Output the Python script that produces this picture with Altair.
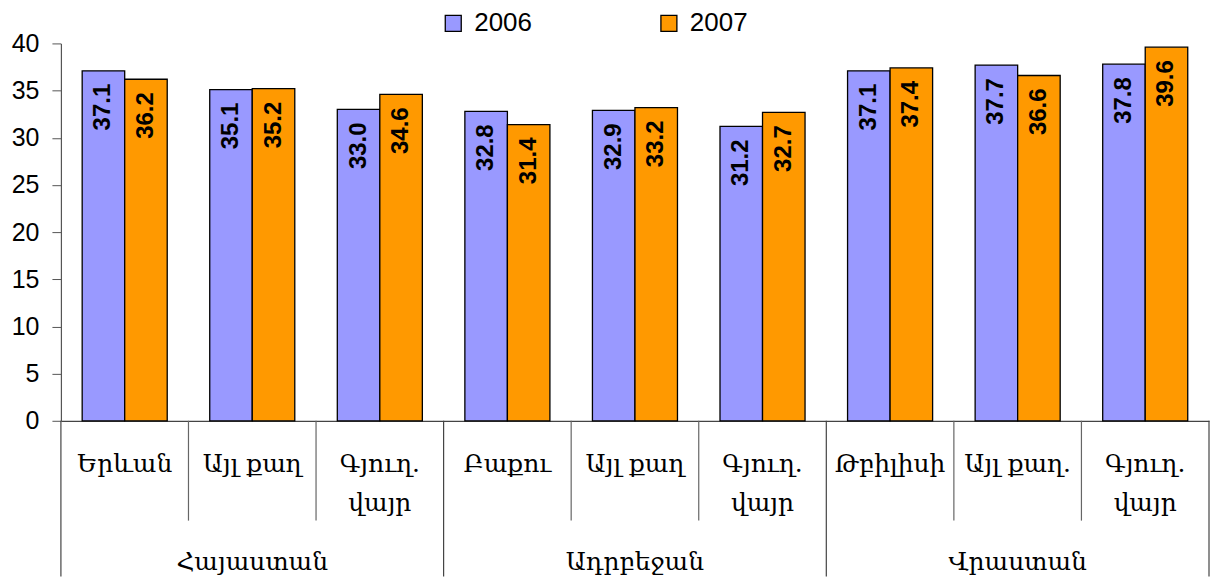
import altair as alt
import pandas as pd

ids = ["c0", "c1", "c2", "c3", "c4", "c5", "c6", "c7", "c8"]
cat_labels = ["Երևան", "Այլ քաղ", "Գյուղ.\nվայր", "Բաքու", "Այլ քաղ", "Գյուղ.\nվայր",
              "Թբիլիսի", "Այլ քաղ.", "Գյուղ.\nվայր"]
group_ids = ["c1", "c4", "c7"]
group_labels = ["Հայաստան", "Ադրբեջան", "Վրաստան"]
years = ["2006", "2007"]
v2006 = [37.1, 35.1, 33.0, 32.8, 32.9, 31.2, 37.1, 37.7, 37.8]
v2007 = [36.2, 35.2, 34.6, 31.4, 33.2, 32.7, 37.4, 36.6, 39.6]
short_sep_ids = ["c1", "c2", "c4", "c5", "c7", "c8"]
long_sep_ids = ["c0", "c3", "c6"]

rows = []
for i, cid in enumerate(ids):
    rows.append({"id": cid, "year": "2006", "value": v2006[i]})
    rows.append({"id": cid, "year": "2007", "value": v2007[i]})
bars_df = pd.DataFrame(rows)
cats_df = pd.DataFrame({"id": ids, "label": cat_labels})
groups_df = pd.DataFrame({"id": group_ids, "label": group_labels})
short_df = pd.DataFrame({"id": short_sep_ids})
long_df = pd.DataFrame({"id": long_sep_ids})
end_df = pd.DataFrame({"id": [ids[-1]]})

PLOT_H = 378
LABEL_FONT = "DejaVu Serif"

x_enc = alt.X("id:N", title=None,
              scale=alt.Scale(paddingInner=0, paddingOuter=0),
              axis=alt.Axis(labels=False, ticks=False, domainColor="#444", domainWidth=1.2))
xoff = alt.XOffset("year:N", scale=alt.Scale(paddingOuter=0.5, paddingInner=0))
y_enc = alt.Y("value:Q", title=None,
              scale=alt.Scale(domain=[0, 40], nice=False),
              axis=alt.Axis(values=list(range(0, 45, 5)), grid=False, tickSize=9,
                            labelFontSize=25, labelPadding=13, labelColor="black",
                            labelFont="Liberation Sans", domainColor="#555",
                            tickColor="#555", domainWidth=1.2))

bars = alt.Chart(bars_df).mark_bar(stroke="black", strokeWidth=1.3).encode(
    x=x_enc,
    xOffset=xoff,
    y=y_enc,
    color=alt.Color("year:N", title=None,
                    scale=alt.Scale(domain=years, range=["#9999FF", "#FF9900"]),
                    legend=alt.Legend(orient="none", legendX=380, legendY=-33,
                                      direction="horizontal", symbolType="square",
                                      symbolSize=256, symbolStrokeColor="black",
                                      symbolStrokeWidth=1.3, labelFontSize=26,
                                      labelFont="Liberation Sans", labelColor="black",
                                      columnPadding=124, labelOffset=8)),
)

texts = alt.Chart(bars_df).mark_text(angle=270, align="right", baseline="middle", dx=-13,
                                     fontSize=24, fontWeight="bold",
                                     font="Liberation Sans", color="black").encode(
    x="id:N",
    xOffset=xoff,
    y="value:Q",
    text=alt.Text("value:Q", format=".1f"),
)

short_sep = alt.Chart(short_df).mark_rule(color="#666", strokeWidth=1.2).encode(
    x=alt.X("id:N", bandPosition=0),
    y=alt.value(PLOT_H),
    y2=alt.value(PLOT_H + 100),
)
long_sep = alt.Chart(long_df).mark_rule(color="#444", strokeWidth=1.2).encode(
    x=alt.X("id:N", bandPosition=0),
    y=alt.value(PLOT_H),
    y2=alt.value(PLOT_H + 156),
)
end_sep = alt.Chart(end_df).mark_rule(color="#444", strokeWidth=1.2).encode(
    x=alt.X("id:N", bandPosition=1),
    y=alt.value(PLOT_H),
    y2=alt.value(PLOT_H + 156),
)

cat_text = alt.Chart(cats_df).mark_text(font=LABEL_FONT, fontSize=25, baseline="top",
                                        lineBreak="\n", lineHeight=39, color="black").encode(
    x="id:N",
    y=alt.value(PLOT_H + 31),
    text="label:N",
)
grp_text = alt.Chart(groups_df).mark_text(font=LABEL_FONT, fontSize=25, baseline="middle",
                                          color="black").encode(
    x="id:N",
    y=alt.value(PLOT_H + 141),
    text="label:N",
)

chart = alt.layer(bars, texts, short_sep, long_sep, end_sep, cat_text, grp_text).properties(
    width=1150, height=PLOT_H,
    padding={"left": 3, "top": 2, "right": 0, "bottom": 0},
).configure_view(stroke=None)

chart.save("out.html", embed_options={"renderer": "svg", "actions": False})
